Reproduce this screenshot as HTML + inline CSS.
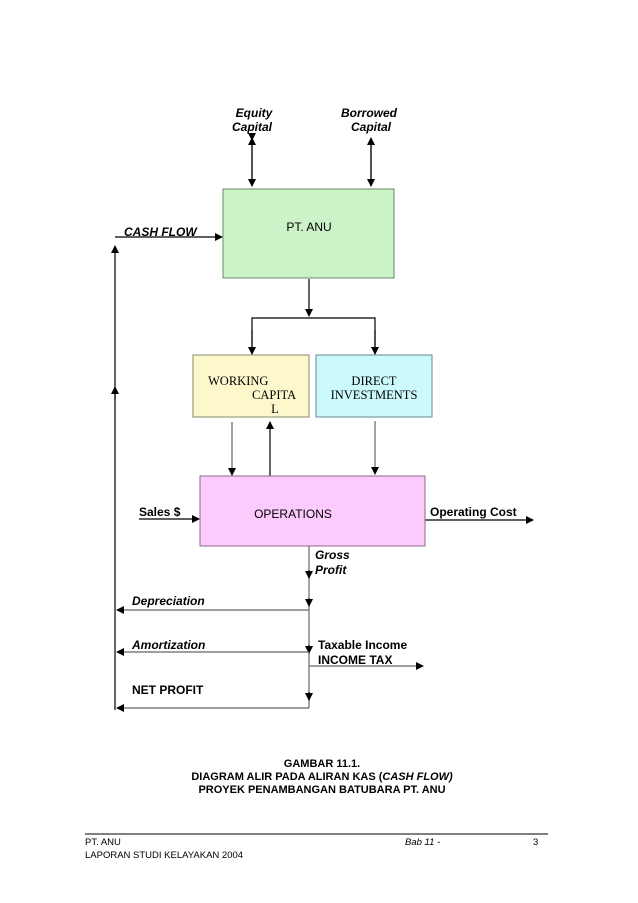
<!DOCTYPE html>
<html><head><meta charset="utf-8"><style>
html,body{margin:0;padding:0;background:#fff;}
svg{display:block;font-family:"Liberation Sans",Arial,sans-serif;}
</style></head><body>
<svg width="638" height="903" viewBox="0 0 638 903" xmlns="http://www.w3.org/2000/svg">
<defs>
<marker id="a" markerWidth="8" markerHeight="8" refX="7" refY="4" orient="auto" markerUnits="userSpaceOnUse"><path d="M0,0 L8,4 L0,8 z" fill="#000"/></marker>
</defs>
<g stroke="#000" stroke-width="1.2" fill="none">
<!-- equity/borrowed double arrows -->
<line x1="252" y1="140" x2="252" y2="186" marker-end="url(#a)" marker-start="url(#a)" />
<line x1="371" y1="140" x2="371" y2="186" marker-end="url(#a)" />
<line x1="371" y1="186" x2="371" y2="138" marker-end="url(#a)" />
<line x1="252" y1="186" x2="252" y2="138" marker-end="url(#a)" />
<!-- cash flow -->
<line x1="115" y1="710" x2="115" y2="246" marker-end="url(#a)"/>
<line x1="115" y1="400" x2="115" y2="387" marker-end="url(#a)"/>
<line x1="115" y1="237" x2="222" y2="237" marker-end="url(#a)"/>
<!-- PT ANU down -->
<line x1="309" y1="279" x2="309" y2="316" marker-end="url(#a)"/>
<polyline points="252,354 252,318 375,318 375,354"/>
<line x1="252" y1="330" x2="252" y2="354" marker-end="url(#a)"/>
<line x1="375" y1="330" x2="375" y2="354" marker-end="url(#a)"/>
<!-- WC/DI to ops -->
<line x1="232" y1="422" x2="232" y2="475" stroke="#666" marker-end="url(#a)"/>
<line x1="270" y1="476" x2="270" y2="422" marker-end="url(#a)"/>
<line x1="375" y1="421" x2="375" y2="474" stroke="#666" marker-end="url(#a)"/>
<!-- sales / op cost -->
<line x1="139" y1="519" x2="199" y2="519" marker-end="url(#a)"/>
<line x1="425" y1="520" x2="533" y2="520" marker-end="url(#a)"/>
<!-- vertical profit -->
<line x1="309" y1="546" x2="309" y2="708" stroke="#666"/>
<line x1="309" y1="570" x2="309" y2="578" marker-end="url(#a)"/>
<line x1="309" y1="598" x2="309" y2="606" marker-end="url(#a)"/>
<line x1="309" y1="645" x2="309" y2="653" marker-end="url(#a)"/>
<line x1="309" y1="692" x2="309" y2="700" marker-end="url(#a)"/>
<line x1="309" y1="610" x2="117" y2="610" stroke="#666" marker-end="url(#a)"/>
<line x1="309" y1="652" x2="117" y2="652" stroke="#666" marker-end="url(#a)"/>
<line x1="309" y1="666" x2="423" y2="666" stroke="#666" marker-end="url(#a)"/>
<line x1="309" y1="708" x2="117" y2="708" stroke="#666" marker-end="url(#a)"/>
<!-- footer line -->
<line x1="85" y1="834" x2="548" y2="834" stroke-width="1"/>
</g>
<!-- boxes -->
<rect x="223" y="189" width="171" height="89" fill="#ccf2c8" stroke="#6a8a6a" stroke-width="1"/>
<rect x="193" y="355" width="116" height="62" fill="#fcf8cc" stroke="#8a8a6a" stroke-width="1"/>
<rect x="316" y="355" width="116" height="62" fill="#ccfafc" stroke="#6a8a8a" stroke-width="1"/>
<rect x="200" y="476" width="225" height="70" fill="#fccafc" stroke="#8a6a8a" stroke-width="1"/>
<g font-size="12" fill="#000">
<text x="309" y="231" text-anchor="middle">PT. ANU</text>
<text x="293" y="518" text-anchor="middle">OPERATIONS</text>
</g>
<g font-family="Liberation Serif,serif" font-size="12.5" fill="#000">
<text x="208" y="385">WORKING</text>
<text x="252" y="399">CAPITA</text>
<text x="275" y="413" text-anchor="middle">L</text>
<text x="374" y="385" text-anchor="middle">DIRECT</text>
<text x="374" y="399" text-anchor="middle">INVESTMENTS</text>
</g>
<g font-size="12" font-weight="bold" font-style="italic" fill="#000">
<text x="254" y="117" text-anchor="middle">Equity</text>
<text x="252" y="131" text-anchor="middle">Capital</text>
<text x="369" y="117" text-anchor="middle">Borrowed</text>
<text x="371" y="131" text-anchor="middle">Capital</text>
<text x="124" y="236">CASH FLOW</text>
<text x="315" y="559">Gross</text>
<text x="315" y="574">Profit</text>
<text x="132" y="605">Depreciation</text>
<text x="132" y="649">Amortization</text>
</g>
<g font-size="12" font-weight="bold" fill="#000">
<text x="139" y="516">Sales $</text>
<text x="430" y="516">Operating Cost</text>
<text x="318" y="649">Taxable Income</text>
<text x="318" y="664">INCOME TAX</text>
<text x="132" y="694">NET PROFIT</text>
</g>
<g font-size="11" font-weight="bold" fill="#000" text-anchor="middle">
<text x="322" y="767">GAMBAR 11.1.</text>
<text x="322" y="780">DIAGRAM ALIR PADA ALIRAN KAS (<tspan font-style="italic">CASH FLOW)</tspan></text>
<text x="322" y="793">PROYEK PENAMBANGAN BATUBARA PT. ANU</text>
</g>
<g font-size="9.5" fill="#000">
<text x="85" y="845">PT. ANU</text>
<text x="85" y="858">LAPORAN STUDI KELAYAKAN 2004</text>
<text x="405" y="845" font-style="italic">Bab 11 -</text>
<text x="533" y="845">3</text>
</g>
</svg>
</body></html>
